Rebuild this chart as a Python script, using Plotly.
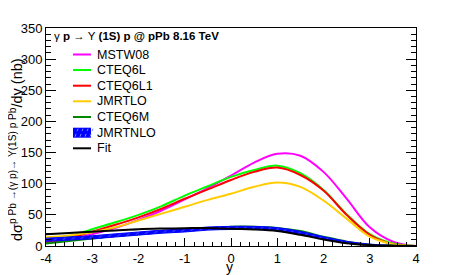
import plotly.graph_objects as go

# ---------------- data ----------------
rapidity = [-4, -3.5, -3, -2.5, -2, -1.5, -1, -0.5, 0, 0.5, 1, 1.5, 2, 2.5, 3, 3.5, 4]

mstw08 = [5, 10, 19, 29, 42, 57, 75, 93, 113, 134, 148, 145, 119, 76, 30, 7, 0]
cteq6l = [7, 15, 27, 38, 50, 64, 81, 96, 111, 122, 129, 117, 90, 51, 19, 4, 0]
cteq6l1 = [6, 13, 23, 34, 46, 60, 76, 91, 106, 119, 126, 114, 89, 50, 18, 3, 0]
jmrtlo = [14, 17, 22, 30, 41, 52, 63, 74, 84, 95, 102, 95, 73, 44, 15, 3, 0]
cteq6m = [4, 8, 12, 16, 19, 22, 25, 28, 31, 31, 29, 24, 15, 7, 2, 0.5, 0]
jmrtnlo_center = [10, 12, 14, 17, 20, 23, 25, 28, 29, 29, 27, 21, 13, 6, 2, 0.5, 0]
jmrtnlo_halfwidth = [2.5, 2.5, 2.5, 2.5, 2.5, 2.5, 2.5, 2.5, 2.5, 2.5, 2.5, 2.5, 2, 1.5, 1, 0.5, 0]
fit = [19, 21, 23, 25, 27, 28, 28.5, 29, 27.5, 26.5, 24, 18, 10.5, 4.5, 1.5, 0.3, 0]

legend_header = "<span style='font-weight:normal'>γ</span> <b>p</b> → Υ <b>(1S) p @ pPb 8.16 TeV</b>"
legend_names = ["MSTW08", "CTEQ6L", "CTEQ6L1", "JMRTLO", "CTEQ6M", "JMRTNLO", "Fit"]
legend_colors = ["#ff00ff", "#00ff00", "#ff0000", "#ffcc00", "#008800", "#0000ff", "#000000"]

x_ticks = [-4, -3, -2, -1, 0, 1, 2, 3, 4]
y_ticks = [0, 50, 100, 150, 200, 250, 300, 350]

FONT = "Liberation Sans, Arial, Helvetica, sans-serif"

fig = go.Figure()

jlo = [c - h for c, h in zip(jmrtnlo_center, jmrtnlo_halfwidth)]
jhi = [c + h for c, h in zip(jmrtnlo_center, jmrtnlo_halfwidth)]

def add_line(y, color, width=2):
    fig.add_trace(go.Scatter(x=rapidity, y=y, mode="lines", showlegend=False,
                             line=dict(color=color, width=width, shape="spline", smoothing=1.0),
                             hoverinfo="skip"))

add_line(mstw08, legend_colors[0])
add_line(cteq6l, legend_colors[1])
add_line(cteq6l1, legend_colors[2])
add_line(jmrtlo, legend_colors[3])
add_line(cteq6m, legend_colors[4])
# JMRTNLO band
fig.add_trace(go.Scatter(x=rapidity, y=jlo, mode="lines", showlegend=False,
                         line=dict(color="#0000ff", width=1, shape="spline"), hoverinfo="skip"))
fig.add_trace(go.Scatter(x=rapidity, y=jhi, mode="lines", showlegend=False, fill="tonexty",
                         fillcolor="#0000ff",
                         fillpattern=dict(shape="/", fgcolor="#6f8fff", bgcolor="#0000ff", size=6, solidity=0.2),
                         line=dict(color="#0000ff", width=1, shape="spline"), hoverinfo="skip"))
add_line(fit, legend_colors[6])

# ---------------- geometry (window pixels; page body adds an 8px offset) ----------------
OFF = 8
W, H = 463, 275
PX0, PX1, PY0, PY1 = 46, 416, 28, 246   # plot area in window pixels
L = PX0 - OFF
T = PY0 - OFF
R = W - (PX1 - OFF)
B = H - (PY1 - OFF)
pw, ph = PX1 - PX0, PY1 - PY0

def px2paper(px, py):
    return (px - PX0) / pw, (PY1 - py) / ph

annotations = []
shapes = []
hx, hy = px2paper(52, 36)
annotations.append(dict(x=hx, y=hy, xref="paper", yref="paper", text=legend_header, showarrow=False,
                        xanchor="left", yanchor="middle", font=dict(family=FONT, size=11.5, color="black")))
entry_y = [54.5, 70, 85.7, 101.3, 117, 132.7, 148.3]
for name, col, ey in zip(legend_names, legend_colors, entry_y):
    x0, yy = px2paper(73, ey)
    x1, _ = px2paper(91, ey)
    if name == "JMRTNLO":
        _, yb = px2paper(73, ey + 5)
        _, yt = px2paper(73, ey - 5)
        shapes.append(dict(type="rect", xref="paper", yref="paper", x0=x0, x1=x1, y0=yb, y1=yt,
                           fillcolor="#0000ff", line=dict(width=0)))
        for k in range(4):
            sx0, sy0 = px2paper(75 + 5 * k, ey + 4)
            sx1, sy1 = px2paper(78 + 5 * k, ey - 4)
            shapes.append(dict(type="line", xref="paper", yref="paper", x0=sx0, x1=sx1, y0=sy0, y1=sy1,
                               line=dict(color="#6f8fff", width=1, dash="dot")))
    else:
        shapes.append(dict(type="line", xref="paper", yref="paper", x0=x0, x1=x1, y0=yy, y1=yy,
                           line=dict(color=col, width=2)))
    tx, _ = px2paper(95, ey)
    annotations.append(dict(x=tx, y=yy, xref="paper", yref="paper", text=name, showarrow=False,
                            xanchor="left", yanchor="middle", font=dict(family=FONT, size=12.5, color="black")))

# y-axis title
ax, ay = px2paper(16, 150)
annotations.append(dict(x=ax, y=ay, xref="paper", yref="paper", textangle=-90, showarrow=False,
                        xanchor="center", yanchor="middle",
                        text="dσ<sup>p Pb →(γ p)→ Υ(1S) p Pb</sup>/dy (nb)",
                        font=dict(family=FONT, size=14.5, color="black")))
# x-axis title
xx, xy = px2paper(229, 266.5)
annotations.append(dict(x=xx, y=xy, xref="paper", yref="paper", showarrow=False,
                        xanchor="center", yanchor="middle", text="y",
                        font=dict(family=FONT, size=14, color="black")))

fig.update_layout(
    width=W, height=H,
    margin=dict(l=L, r=R, t=T, b=B, pad=0, autoexpand=False),
    paper_bgcolor="white", plot_bgcolor="white",
    font=dict(family=FONT, size=13, color="black"),
    showlegend=False,
    annotations=annotations,
    shapes=shapes,
    xaxis=dict(range=[-4, 4], tickvals=x_ticks, ticktext=[str(v) for v in x_ticks],
               ticks="inside", ticklen=8, tickwidth=1, tickcolor="black",
               minor=dict(ticks="inside", ticklen=4, dtick=0.2, tickcolor="black", showgrid=False),
               showline=True, linecolor="black", linewidth=1, mirror=True,
               showgrid=False, zeroline=False, automargin=False,
               tickfont=dict(family=FONT, size=13)),
    yaxis=dict(range=[0, 350], tickvals=y_ticks, ticktext=[str(v) for v in y_ticks],
               ticks="inside", ticklen=10, tickwidth=1, tickcolor="black",
               minor=dict(ticks="inside", ticklen=5, dtick=10, tickcolor="black", showgrid=False),
               showline=True, linecolor="black", linewidth=1, mirror="ticks",
               showgrid=False, zeroline=False, automargin=False,
               tickfont=dict(family=FONT, size=13)),
)

fig.write_html("out.html")
